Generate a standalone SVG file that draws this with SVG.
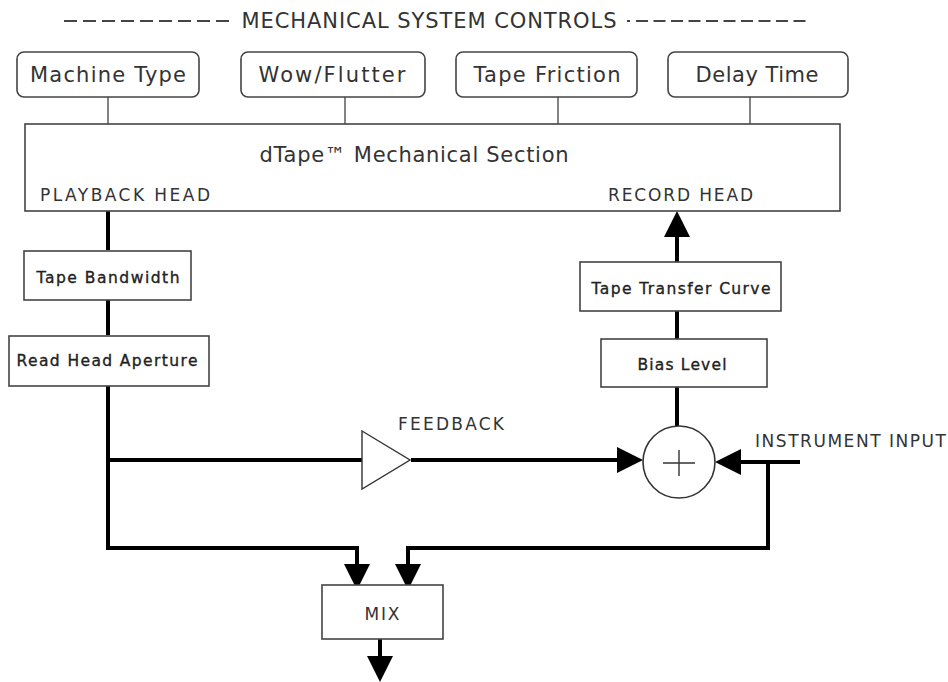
<svg xmlns="http://www.w3.org/2000/svg" width="948" height="682" viewBox="0 0 948 682">
<style>
text{font-family:"DejaVu Sans","Liberation Sans",sans-serif;fill:#333}
.ctl{fill:#fff;stroke:#444;stroke-width:1.6}
.box{fill:#fff;stroke:#444;stroke-width:1.6}
.thin{fill:none;stroke:#333;stroke-width:1.2}
.sig{fill:none;stroke:#000;stroke-width:4}
.t19{font-size:21px}
.t16{font-size:17px}
.t14{font-size:15.5px;fill:#222;stroke:#222;stroke-width:0.35}
</style>
<defs>
<marker id="ah" viewBox="0 0 26 26" markerWidth="26" markerHeight="26" markerUnits="userSpaceOnUse" refX="20" refY="13" orient="auto">
<path d="M0,0 L26,13 L0,26 z" fill="#000"/>
</marker>
</defs>
<g id="title">
<line x1="64" y1="21" x2="233" y2="21" stroke="#444" stroke-width="2" stroke-dasharray="13 6"/>
<text x="429" y="28" class="t19" text-anchor="middle" textLength="375">MECHANICAL SYSTEM CONTROLS</text>
<line x1="627" y1="21" x2="630" y2="21" stroke="#444" stroke-width="2"/>
<line x1="636" y1="21" x2="806" y2="21" stroke="#444" stroke-width="2" stroke-dasharray="12 5.5"/>
</g>
<g id="connectors">
<path class="thin" d="M108 97V124M345 97V124M558 97V124M750 97V124"/>
<path class="sig" d="M108 211V250M108 300V335M108 386V548H357V584" marker-end="url(#ah)"/>
<path class="sig" d="M108 460H362"/>
<path class="sig" d="M411 460H637" marker-end="url(#ah)"/>
<path class="sig" d="M677 262V217" marker-end="url(#ah)"/>
<path class="sig" d="M677 311V339M677 387V426"/>
<path class="sig" d="M800 462H721" marker-end="url(#ah)"/>
<path class="sig" d="M768 462V548H408V584" marker-end="url(#ah)"/>
<path class="sig" d="M380 639V676" marker-end="url(#ah)"/>
</g>
<g id="machine-type"><rect class="ctl" x="17" y="52" width="182" height="45" rx="7"/><text x="108" y="82" class="t19" text-anchor="middle" textLength="156">Machine Type</text></g>
<g id="wow-flutter"><rect class="ctl" x="241" y="52" width="184" height="45" rx="7"/><text x="332" y="82" class="t19" text-anchor="middle" textLength="147">Wow/Flutter</text></g>
<g id="tape-friction"><rect class="ctl" x="456" y="52" width="181" height="45" rx="7"/><text x="547" y="82" class="t19" text-anchor="middle" textLength="147">Tape Friction</text></g>
<g id="delay-time"><rect class="ctl" x="668" y="52" width="180" height="45" rx="7"/><text x="757" y="82" class="t19" text-anchor="middle" textLength="123">Delay Time</text></g>
<g id="mechanical-section">
<rect class="box" x="25" y="124" width="815" height="87" stroke-width="2"/>
<text x="414" y="162" class="t19" text-anchor="middle" textLength="309">dTape™ Mechanical Section</text>
<text x="40" y="201" class="t16" textLength="170">PLAYBACK HEAD</text>
<text x="608" y="201" class="t16" textLength="145">RECORD HEAD</text>
</g>
<g id="tape-bandwidth"><rect class="box" x="24" y="251" width="167" height="49"/><text x="108" y="283" class="t14" text-anchor="middle" textLength="143">Tape Bandwidth</text></g>
<g id="read-head-aperture"><rect class="box" x="9" y="336" width="200" height="50"/><text x="107" y="366" class="t14" text-anchor="middle" textLength="181">Read Head Aperture</text></g>
<g id="tape-transfer-curve"><rect class="box" x="580" y="262" width="201" height="49"/><text x="681" y="294" class="t14" text-anchor="middle" textLength="179">Tape Transfer Curve</text></g>
<g id="bias-level"><rect class="box" x="601" y="339" width="166" height="48"/><text x="682" y="370" class="t14" text-anchor="middle" textLength="89">Bias Level</text></g>
<g id="feedback">
<polygon points="362,431 410,460 362,489" fill="#fff" stroke="#333" stroke-width="1.4"/>
<text x="398" y="430" class="t16" textLength="106">FEEDBACK</text>
</g>
<g id="sum">
<circle cx="679" cy="462" r="36" fill="#fff" stroke="#333" stroke-width="1.6"/>
<path d="M663 463H695M679 450V476" stroke="#333" stroke-width="1.4"/>
</g>
<g id="instrument-input"><text x="755" y="447" class="t16" textLength="191">INSTRUMENT INPUT</text></g>
<g id="mix"><rect class="box" x="322" y="585" width="121" height="54"/><text x="382" y="620" class="t16" text-anchor="middle" textLength="35">MIX</text></g>
</svg>
